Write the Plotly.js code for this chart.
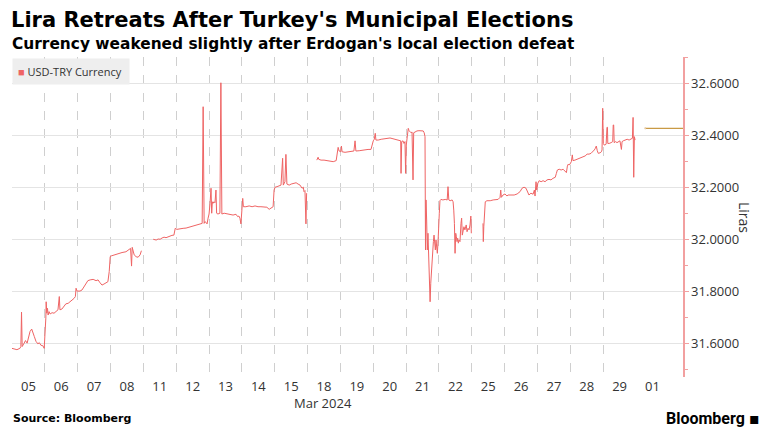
<!DOCTYPE html>
<html>
<head>
<meta charset="utf-8">
<script src="https://cdn.plot.ly/plotly-3.0.1.min.js"></script>
<style>
html,body{margin:0;padding:0;background:#fff;}
#chart{width:764px;height:433px;}
</style>
</head>
<body>
<div id="chart"></div>
<script>
// Trading-day slots (one unit per trading day) and their labels
const dayLabels = ["05","06","07","08","11","12","13","14","15","18","19","20","21","22","25","26","27","28","29","01"];
const axisMonthLabel = "Mar 2024";
const seriesName = "USD-TRY Currency";
const lastPrice = 32.428;

// Intraday position (trading-day index + fraction of day)
const timeIdx = [
 0.00,0.15,0.24,0.27,0.29,0.31,0.37,0.41,0.46,0.50,0.55,0.60,0.64,0.68,0.73,0.79,0.83,0.88,0.94,0.98,
 1.03,1.04,1.06,1.08,1.10,1.13,1.16,1.22,1.28,1.34,1.40,1.44,1.46,1.52,1.58,1.64,1.71,1.77,1.83,1.89,1.93,1.95,
 1.98,2.07,2.13,2.25,2.31,2.38,2.47,2.56,2.62,2.68,2.74,2.80,2.86,2.92,2.96,2.99,
 3.02,3.11,3.23,3.35,3.47,3.56,3.61,3.64,3.66,3.72,3.78,3.84,3.90,3.94,null,
 4.30,4.39,4.45,4.51,4.57,4.63,4.69,4.75,4.81,4.87,4.93,4.97,
 5.02,5.12,5.21,5.30,5.39,5.48,5.57,5.66,5.73,5.79,5.82,5.85,5.88,5.94,5.97,
 6.00,6.03,6.06,6.08,6.10,6.12,6.15,6.18,6.21,6.23,6.27,6.33,6.36,6.39,6.46,6.55,6.64,6.73,6.82,6.87,6.91,6.94,6.97,
 7.00,7.025,7.045,7.12,7.22,7.31,7.40,7.49,7.58,7.67,7.76,7.83,7.89,7.95,7.98,
 8.01,8.07,8.13,8.19,8.24,8.26,8.31,8.34,8.37,8.44,8.50,8.56,8.65,8.71,8.77,8.83,8.87,8.89,8.92,8.95,8.97,null,
 9.28,9.32,9.34,9.41,9.50,9.59,9.68,9.78,9.87,9.905,9.93,9.96,
 10.01,10.03,10.05,10.14,10.23,10.32,10.41,10.445,10.47,10.57,10.66,10.75,10.84,10.93,10.97,
 11.00,11.03,11.06,11.08,11.15,11.24,11.33,11.42,11.51,11.60,11.69,11.78,11.835,11.845,11.865,11.905,11.935,11.965,11.985,12.005,
 12.05,12.065,12.09,12.12,12.15,12.18,12.21,12.23,12.27,12.33,12.39,12.45,12.52,12.55,12.575,12.59,12.605,12.625,12.645,12.665,12.69,12.705,12.73,12.75,12.77,12.79,12.81,12.83,12.85,12.87,12.89,12.91,12.93,12.95,12.97,12.99,13.01,13.03,
 13.06,13.12,13.19,13.25,13.275,13.30,13.34,13.40,13.43,13.45,13.47,13.49,13.51,13.53,13.55,13.57,13.59,13.61,13.64,13.67,13.69,13.71,13.73,13.76,13.79,13.83,13.855,13.885,13.915,13.945,13.97,13.985,null,
 14.34,14.35,14.365,14.395,14.41,14.46,14.56,14.65,14.74,14.80,14.86,14.88,14.90,14.95,15.01,15.07,
 15.10,15.20,15.29,15.38,15.47,15.53,15.59,15.65,15.70,15.74,15.80,15.865,15.905,15.925,15.955,15.975,
 16.01,16.05,16.11,16.17,16.23,16.29,16.35,16.41,16.47,16.54,16.575,16.605,16.66,16.72,16.78,16.84,16.88,16.91,16.94,16.97,
 17.00,17.03,17.06,17.08,17.14,17.20,17.27,17.33,17.39,17.45,17.51,17.57,17.63,17.69,17.73,17.76,17.79,17.82,17.85,17.905,17.945,17.965,17.985,18.005,
 18.03,18.06,18.09,18.115,18.13,18.14,18.18,18.24,18.29,18.305,18.32,18.335,18.38,18.42,18.475,18.51,18.555,18.575,18.61,18.67,18.73,18.79,18.85,18.89,18.91,18.93,18.95,18.97
];

// USD-TRY level (liras per dollar)
const usdTry = [
 31.583,31.578,31.583,31.590,31.722,31.590,31.603,31.613,31.603,31.623,31.648,31.657,31.645,31.628,31.610,31.600,31.605,31.595,31.593,31.583,
 31.699,31.762,31.718,31.737,31.711,31.724,31.715,31.720,31.718,31.724,31.731,31.782,31.731,31.734,31.743,31.754,31.756,31.762,31.769,31.775,31.782,31.814,
 31.803,31.803,31.807,31.833,31.843,31.846,31.848,31.843,31.846,31.835,31.826,31.830,31.833,31.839,31.878,31.935,
 31.938,31.942,31.948,31.951,31.954,31.961,31.967,31.899,31.971,31.942,31.935,31.933,31.942,31.958,null,
 32.002,31.999,32.003,32.002,32.007,32.010,32.008,32.012,32.015,32.017,32.018,32.044,
 32.040,32.043,32.044,32.045,32.048,32.050,32.053,32.057,32.061,32.063,32.511,32.063,32.070,32.061,32.083,
 32.099,32.140,32.198,32.102,32.146,32.140,32.146,32.142,32.191,32.102,32.099,32.102,32.603,32.099,32.102,32.099,32.098,32.095,32.098,32.089,32.091,32.083,32.061,
 32.125,32.159,32.127,32.127,32.130,32.127,32.130,32.127,32.127,32.125,32.125,32.117,32.121,32.127,32.191,
 32.202,32.204,32.207,32.210,32.313,32.210,32.223,32.328,32.214,32.210,32.214,32.217,32.219,32.214,32.210,32.198,32.202,32.185,32.189,32.061,32.179,null,
 32.306,32.317,32.309,32.306,32.306,32.304,32.304,32.300,32.304,32.332,32.355,32.341,
 32.338,32.360,32.338,32.336,32.337,32.338,32.341,32.380,32.341,32.342,32.344,32.345,32.347,32.347,32.370,
 32.380,32.386,32.409,32.383,32.383,32.386,32.387,32.390,32.391,32.388,32.386,32.383,32.380,32.255,32.377,32.380,32.370,32.377,32.255,32.364,
 32.415,32.428,32.419,32.415,32.411,32.414,32.230,32.411,32.415,32.418,32.419,32.419,32.418,32.411,32.396,31.961,32.153,32.076,31.961,32.025,31.948,31.871,31.762,31.833,31.884,31.935,31.974,31.993,32.018,31.987,31.961,31.999,31.974,31.948,31.987,32.025,32.102,32.150,
 32.155,32.153,32.155,32.153,32.204,32.153,32.150,32.153,32.146,32.114,32.063,31.948,32.025,32.012,31.993,32.006,31.987,31.999,31.993,32.063,32.083,32.018,32.038,32.050,32.038,32.057,32.031,32.044,32.038,32.057,32.091,32.025,null,
 32.063,31.993,32.050,32.127,32.146,32.150,32.150,32.153,32.155,32.155,32.163,32.191,32.163,32.172,32.176,32.168,
 32.172,32.172,32.172,32.176,32.185,32.198,32.202,32.198,32.185,32.172,32.179,32.175,32.191,32.168,32.223,32.191,
 32.217,32.227,32.223,32.227,32.223,32.230,32.232,32.230,32.236,32.240,32.255,32.268,32.271,32.268,32.271,32.261,32.258,32.283,32.291,32.287,
 32.296,32.300,32.326,32.304,32.306,32.309,32.313,32.313,32.319,32.322,32.329,32.329,32.332,32.338,32.345,32.351,32.360,32.342,32.332,32.334,32.338,32.345,32.505,32.370,
 32.364,32.364,32.368,32.432,32.432,32.370,32.370,32.373,32.377,32.441,32.441,32.373,32.377,32.373,32.377,32.380,32.347,32.377,32.380,32.383,32.386,32.383,32.386,32.390,32.470,32.240,32.396,32.383
];

const yMajor = [31.6, 31.8, 32.0, 32.2, 32.4, 32.6];
const yMinor = [31.5, 31.7, 31.9, 32.1, 32.3, 32.5, 32.7];

const slotCenters = dayLabels.map((d, i) => i + 0.5);
const slotEdges = dayLabels.slice(0, -1).map((d, i) => i);
const xMax = 20.43;

const lineColor = '#ef6464';
const tickFont = {family: 'Open Sans, Noto Sans, sans-serif', size: 13, color: '#333333'};

const traces = [
  {
    type: 'scatter', mode: 'lines', x: timeIdx, y: usdTry,
    line: {color: lineColor, width: 1}, connectgaps: false,
    name: seriesName, showlegend: false, hoverinfo: 'skip'
  }
];

const layout = {
  width: 764, height: 433,
  margin: {l: 12, r: 81, t: 57, b: 56},
  paper_bgcolor: '#ffffff', plot_bgcolor: '#ffffff',
  font: {family: 'Open Sans, Noto Sans, sans-serif', color: '#333333'},
  title: {
    text: "Lira Retreats After Turkey's Municipal Elections",
    font: {family: 'DejaVu Sans, sans-serif', size: 21, color: '#000000', weight: 'bold'},
    x: 11/764, xanchor: 'left', xref: 'container',
    y: 1 - 20/433, yanchor: 'middle', yref: 'container'
  },
  showlegend: false,
  xaxis: {
    range: [0, xMax], fixedrange: true,
    tickmode: 'array', tickvals: slotCenters, ticktext: dayLabels,
    ticks: '', showgrid: false, zeroline: false, showline: false,
    tickfont: tickFont,
    minor: {tickmode: 'array', tickvals: slotEdges, showgrid: true, griddash: 'dash',
            gridcolor: '#cfcfcf', gridwidth: 1, ticks: ''}
  },
  yaxis: {
    range: [31.473, 32.702], side: 'right', fixedrange: true,
    tickmode: 'array', tickvals: yMajor, tickformat: '.4f',
    ticks: 'outside', ticklen: 4, tickcolor: '#f2a0a0', tickwidth: 1,
    showline: true, linecolor: '#f2a0a0', linewidth: 1.5,
    showgrid: true, gridcolor: '#e4e4e4', gridwidth: 1, zeroline: false,
    tickfont: tickFont,
    minor: {tickmode: 'array', tickvals: yMinor, ticks: 'outside', ticklen: 3, tickcolor: '#f2a0a0', showgrid: false}
  },
  shapes: [
    {type: 'line', xref: 'x', yref: 'y', x0: 19.28, x1: xMax, y0: lastPrice, y1: lastPrice,
     line: {color: '#c99a45', width: 1.2}},
    {type: 'circle', xref: 'x', yref: 'y', x0: 19.25, x1: 19.31, y0: lastPrice - 0.004, y1: lastPrice + 0.004,
     fillcolor: '#e7c9a3', line: {width: 0}}
  ],
  annotations: [
    {text: "Currency weakened slightly after Erdogan's local election defeat",
     xref: 'paper', yref: 'paper', x: 0, xshift: -2, y: 1 + (57 - 44)/320, xanchor: 'left', yanchor: 'middle',
     showarrow: false, font: {family: 'DejaVu Sans, sans-serif', size: 15.4, color: '#000000', weight: 'bold'}},
    {text: '<span style="color:#ef6464">■</span> ' + seriesName,
     xref: 'paper', yref: 'paper', x: 0, y: 1 - 1/320, xanchor: 'left', yanchor: 'top',
     showarrow: false, bgcolor: '#eeeeee', borderpad: 5, width: 106, align: 'left',
     font: {family: 'Open Sans, Noto Sans, sans-serif', size: 11, color: '#333333'}},
    {text: axisMonthLabel, xref: 'x', yref: 'paper', x: 9.47, y: -(403 - 377)/320,
     xanchor: 'center', yanchor: 'middle', showarrow: false, font: tickFont},
    {text: 'Liras', xref: 'paper', yref: 'paper', x: (745 - 12)/671, y: (377 - 217)/320,
     xanchor: 'center', yanchor: 'middle', textangle: 90, showarrow: false,
     font: {family: 'Open Sans, Noto Sans, sans-serif', size: 14, color: '#333333'}},
    {text: 'Source: Bloomberg', xref: 'paper', yref: 'paper', x: 0, xshift: -1, y: -(418 - 377)/320,
     xanchor: 'left', yanchor: 'middle', showarrow: false,
     font: {family: 'DejaVu Sans, sans-serif', size: 11, color: '#000000', weight: 'bold'}},
    {text: 'Bloomberg', xref: 'paper', yref: 'paper', x: (747 - 12)/671, y: -(418 - 377)/320,
     xanchor: 'right', yanchor: 'middle', showarrow: false,
     font: {family: 'Roboto, sans-serif', size: 16, color: '#000000', weight: 'bold'}},
    {text: '▪', xref: 'paper', yref: 'paper', x: (754 - 12)/671, y: -(418 - 377)/320,
     xanchor: 'center', yanchor: 'middle', showarrow: false,
     font: {family: 'DejaVu Sans, sans-serif', size: 16, color: '#000000'}}
  ]
};

Plotly.newPlot('chart', traces, layout, {displayModeBar: false, staticPlot: true});
</script>
</body>
</html>
